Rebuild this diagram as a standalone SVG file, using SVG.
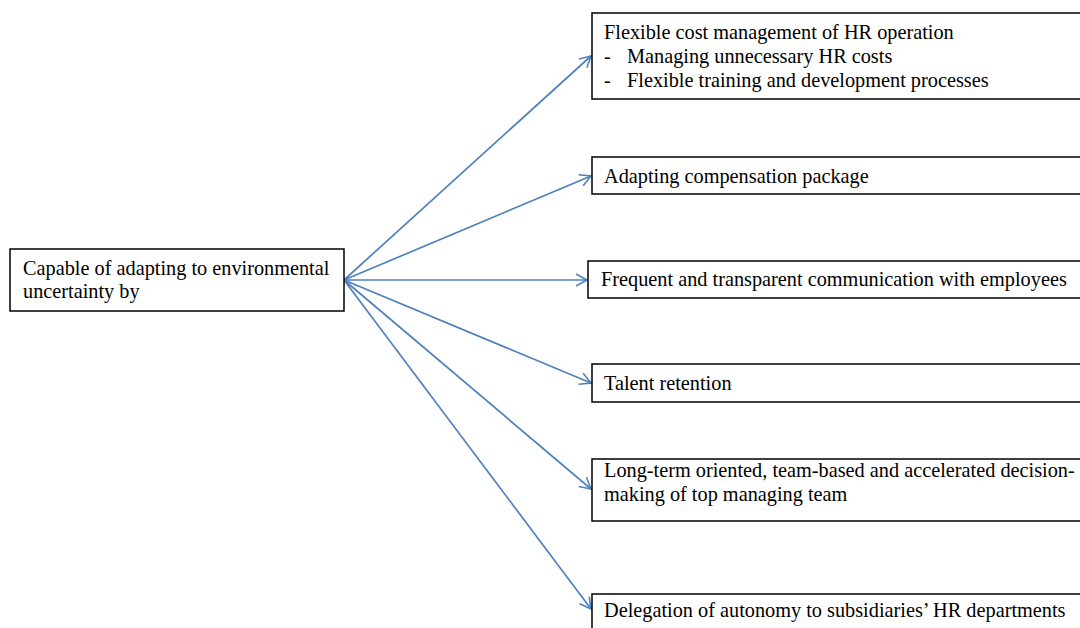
<svg xmlns="http://www.w3.org/2000/svg" width="1080" height="628" viewBox="0 0 1080 628">
<defs>
<marker id="arr" markerWidth="14" markerHeight="14" refX="12" refY="7" orient="auto" markerUnits="userSpaceOnUse">
<path d="M1,1 L12,7 L1,13" fill="none" stroke="#4F81BD" stroke-width="1.6"/>
</marker>
</defs>
<style>
.box{fill:#fff;stroke:#000;stroke-width:1.5}
.t{font-family:"Liberation Serif","Times New Roman",serif;font-size:20.3px;fill:#000}
.c{fill:none;stroke:#4F81BD;stroke-width:1.7;marker-end:url(#arr)}
</style>
<rect width="1080" height="628" fill="#fff"/>
<g id="connectors">
<line class="c" x1="344" y1="280" x2="591" y2="56"/>
<line class="c" x1="344" y1="280" x2="591" y2="176"/>
<line class="c" x1="344" y1="280" x2="587" y2="280"/>
<line class="c" x1="344" y1="280" x2="591" y2="383"/>
<line class="c" x1="344" y1="280" x2="591" y2="489"/>
<line class="c" x1="344" y1="280" x2="591" y2="609"/>
</g>
<g id="source">
<rect class="box" x="10" y="249" width="334" height="62"/>
<text class="t" x="23" y="275">Capable of adapting to environmental</text>
<text class="t" x="23" y="298">uncertainty by</text>
</g>
<g id="n1">
<rect class="box" x="592" y="13" width="500" height="86"/>
<text class="t" x="604" y="39">Flexible cost management of HR operation</text>
<text class="t" x="604" y="63">-</text>
<text class="t" x="627" y="63">Managing unnecessary HR costs</text>
<text class="t" x="604" y="87">-</text>
<text class="t" x="627" y="87">Flexible training and development processes</text>
</g>
<g id="n2">
<rect class="box" x="592" y="157" width="500" height="37"/>
<text class="t" x="604" y="183">Adapting compensation package</text>
</g>
<g id="n3">
<rect class="box" x="588" y="261" width="500" height="37"/>
<text class="t" x="601" y="286">Frequent and transparent communication with employees</text>
</g>
<g id="n4">
<rect class="box" x="592" y="364" width="500" height="38"/>
<text class="t" x="604" y="390">Talent retention</text>
</g>
<g id="n5">
<rect class="box" x="592" y="459" width="500" height="62"/>
<text class="t" x="604" y="477">Long-term oriented, team-based and accelerated decision-</text>
<text class="t" x="604" y="501">making of top managing team</text>
</g>
<g id="n6">
<rect class="box" x="592" y="594" width="500" height="60"/>
<text class="t" x="604" y="617">Delegation of autonomy to subsidiaries’ HR departments</text>
</g>
</svg>
